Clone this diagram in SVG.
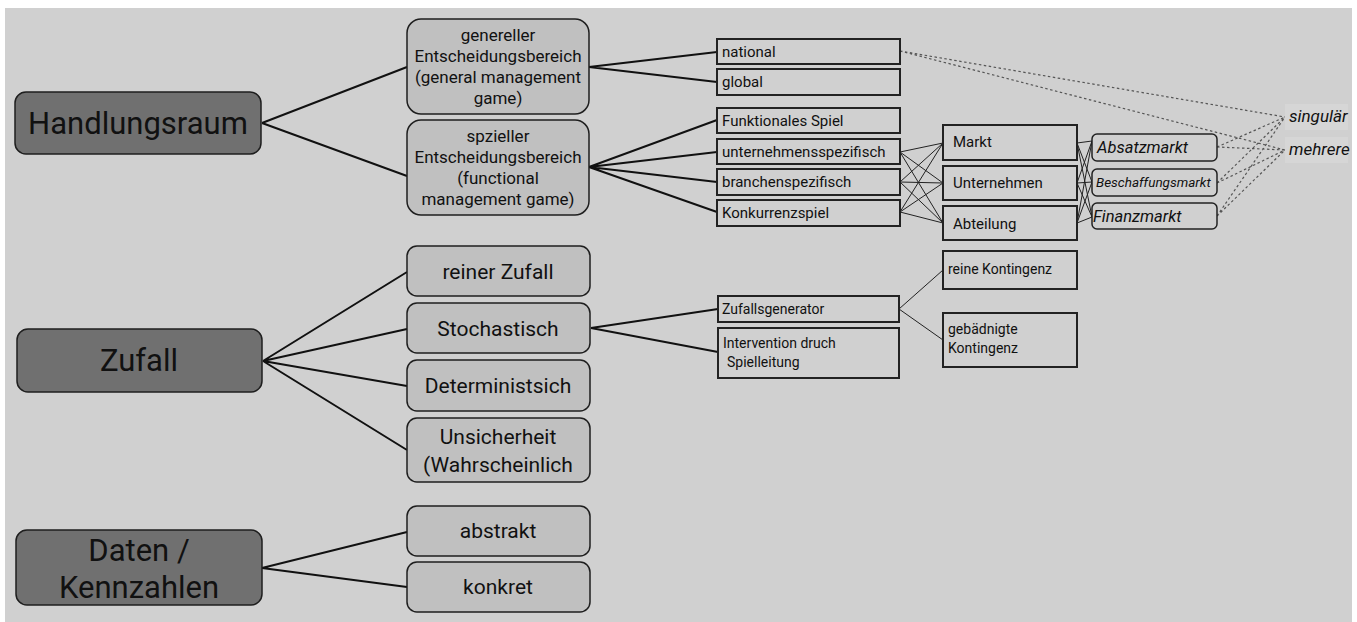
<svg xmlns="http://www.w3.org/2000/svg" width="1357" height="622" viewBox="0 0 1357 622">
  <style>
    text { font-family: Roboto, "Liberation Sans", sans-serif; fill: #111; }
    .root rect { fill: #707070; stroke: #1e1e1e; stroke-width: 1.5; }
    .root text { font-size: 31px; text-anchor: middle; }
    .cat rect { fill: #c0c0c0; stroke: #1e1e1e; stroke-width: 1.5; }
    .cat text { font-size: 21px; text-anchor: middle; }
    .cat text.small { font-size: 17px; }
    .item rect { fill: #d0d0d0; stroke: #222; stroke-width: 2; }
    .item text { font-size: 15px; }
    .item text.sm { font-size: 14px; }
    .mk rect { fill: #d0d0d0; stroke: #222; stroke-width: 1.5; }
    .mk text { font-size: 16.5px; font-style: italic; }
    .tag rect { fill: #d6d6d6; stroke: none; }
    .tag text { font-size: 17px; font-style: italic; }
    .thick { stroke: #111; stroke-width: 2; fill: none; }
    .thin { stroke: #222; stroke-width: 1; fill: none; }
    .dot { stroke: #555; stroke-width: 1.2; stroke-dasharray: 2.5 2.5; fill: none; }
  </style>

  <!-- canvas -->
  <rect x="5" y="8" width="1347" height="614" fill="#d0d0d0"/>

  <!-- connectors -->
  <g id="connectors">
    <!-- Handlungsraum -->
    <path class="thick" d="M262 123 L407 67 M262 123 L407 176"/>
    <path class="thick" d="M589 67 L717 52 M589 67 L717 82"/>
    <path class="thick" d="M589 167 L717 120 M589 167 L717 152 M589 167 L717 182 M589 167 L717 212"/>
    <!-- game types to scope -->
    <path class="thin" d="M900 152 L943 143 M900 152 L943 183 M900 152 L943 223
                          M900 182 L943 143 M900 182 L943 183 M900 182 L943 223
                          M900 212 L943 143 M900 212 L943 183 M900 212 L943 223"/>
    <!-- scope to markets -->
    <path class="thin" d="M1077 143 L1092 141 M1077 143 L1092 182 M1077 143 L1092 217
                          M1077 183 L1092 141 M1077 183 L1092 182 M1077 183 L1092 217
                          M1077 223 L1092 141 M1077 223 L1092 182 M1077 223 L1092 217"/>
    <!-- multiplicity (dotted) -->
    <path class="dot" d="M900 51 L1285 117 M900 51 L1285 150
                         M1217 147 L1285 117 M1217 147 L1285 150
                         M1217 183 L1285 117 M1217 183 L1285 150
                         M1217 216 L1285 117 M1217 216 L1285 150"/>
    <!-- Zufall -->
    <path class="thick" d="M263 361 L407 272 M263 361 L407 329 M263 361 L407 386 M263 361 L407 450"/>
    <path class="thick" d="M591 328 L718 309 M591 328 L718 352"/>
    <path class="thin" d="M899 309 L943 270 M899 309 L943 340"/>
    <!-- Daten / Kennzahlen -->
    <path class="thick" d="M262 568 L407 532 M262 568 L407 587"/>
  </g>

  <!-- top-level nodes -->
  <g id="handlungsraum" class="root">
    <rect x="15" y="92" width="246" height="62" rx="11"/>
    <text x="138" y="134">Handlungsraum</text>
  </g>
  <g id="zufall" class="root">
    <rect x="17" y="329" width="245" height="63" rx="11"/>
    <text x="139" y="371">Zufall</text>
  </g>
  <g id="daten" class="root">
    <rect x="16" y="530" width="246" height="75" rx="11"/>
    <text x="139" y="561">Daten /</text>
    <text x="139" y="598">Kennzahlen</text>
  </g>

  <!-- second level -->
  <g id="genereller" class="cat">
    <rect x="407" y="19" width="182" height="95" rx="14"/>
    <text class="small" x="498" y="41">genereller</text>
    <text class="small" x="498" y="62">Entscheidungsbereich</text>
    <text class="small" x="498" y="83">(general management</text>
    <text class="small" x="498" y="104">game)</text>
  </g>
  <g id="spezieller" class="cat">
    <rect x="407" y="120" width="182" height="95" rx="14"/>
    <text class="small" x="498" y="142">spzieller</text>
    <text class="small" x="498" y="163">Entscheidungsbereich</text>
    <text class="small" x="498" y="184">(functional</text>
    <text class="small" x="498" y="205">management game)</text>
  </g>
  <g id="reiner-zufall" class="cat">
    <rect x="407" y="246" width="183" height="50" rx="10"/>
    <text x="498" y="279">reiner Zufall</text>
  </g>
  <g id="stochastisch" class="cat">
    <rect x="407" y="303" width="183" height="50" rx="10"/>
    <text x="498" y="336">Stochastisch</text>
  </g>
  <g id="deterministisch" class="cat">
    <rect x="407" y="360" width="183" height="51" rx="10"/>
    <text x="498" y="393">Deterministsich</text>
  </g>
  <g id="unsicherheit" class="cat">
    <rect x="407" y="418" width="183" height="64" rx="10"/>
    <text x="498" y="444">Unsicherheit</text>
    <text x="498" y="472">(Wahrscheinlich</text>
  </g>
  <g id="abstrakt" class="cat">
    <rect x="407" y="506" width="183" height="50" rx="10"/>
    <text x="498" y="538">abstrakt</text>
  </g>
  <g id="konkret" class="cat">
    <rect x="407" y="562" width="183" height="50" rx="10"/>
    <text x="498" y="594">konkret</text>
  </g>

  <!-- third level: game scope -->
  <g id="national" class="item">
    <rect x="717" y="39" width="183" height="25"/>
    <text x="722" y="57">national</text>
  </g>
  <g id="global" class="item">
    <rect x="717" y="69" width="183" height="26"/>
    <text x="722" y="87">global</text>
  </g>
  <g id="funktionales-spiel" class="item">
    <rect x="717" y="108" width="183" height="25"/>
    <text x="722" y="126">Funktionales Spiel</text>
  </g>
  <g id="unternehmensspezifisch" class="item">
    <rect x="717" y="139" width="183" height="25"/>
    <text x="722" y="157">unternehmensspezifisch</text>
  </g>
  <g id="branchenspezifisch" class="item">
    <rect x="717" y="169" width="183" height="26"/>
    <text x="722" y="187">branchenspezifisch</text>
  </g>
  <g id="konkurrenzspiel" class="item">
    <rect x="717" y="200" width="183" height="26"/>
    <text x="722" y="218">Konkurrenzspiel</text>
  </g>

  <g id="markt" class="item">
    <rect x="943" y="125" width="134" height="35"/>
    <text x="953" y="147">Markt</text>
  </g>
  <g id="unternehmen" class="item">
    <rect x="943" y="166" width="134" height="34"/>
    <text x="953" y="188">Unternehmen</text>
  </g>
  <g id="abteilung" class="item">
    <rect x="943" y="206" width="134" height="34"/>
    <text x="953" y="229">Abteilung</text>
  </g>

  <g id="absatzmarkt" class="mk">
    <rect x="1092" y="134" width="125" height="27" rx="5"/>
    <text x="1097" y="153">Absatzmarkt</text>
  </g>
  <g id="beschaffungsmarkt" class="mk">
    <rect x="1092" y="169" width="125" height="27" rx="5"/>
    <text x="1096" y="187" style="font-size:13.5px">Beschaffungsmarkt</text>
  </g>
  <g id="finanzmarkt" class="mk">
    <rect x="1092" y="203" width="125" height="26" rx="5"/>
    <text x="1093" y="222">Finanzmarkt</text>
  </g>

  <g id="singular" class="tag">
    <rect x="1285" y="104" width="63" height="26"/>
    <text x="1289" y="122">singulär</text>
  </g>
  <g id="mehrere" class="tag">
    <rect x="1285" y="137" width="63" height="26"/>
    <text x="1289" y="155">mehrere</text>
  </g>

  <!-- third level: chance -->
  <g id="zufallsgenerator" class="item">
    <rect x="718" y="296" width="181" height="26"/>
    <text class="sm" x="722" y="314">Zufallsgenerator</text>
  </g>
  <g id="intervention" class="item">
    <rect x="718" y="328" width="181" height="50"/>
    <text class="sm" x="723" y="348">Intervention druch</text>
    <text class="sm" x="727" y="367">Spielleitung</text>
  </g>
  <g id="reine-kontingenz" class="item">
    <rect x="943" y="251" width="134" height="38"/>
    <text class="sm" x="948" y="274">reine Kontingenz</text>
  </g>
  <g id="gebaendigte-kontingenz" class="item">
    <rect x="943" y="313" width="134" height="54"/>
    <text class="sm" x="948" y="334">gebädnigte</text>
    <text class="sm" x="948" y="353">Kontingenz</text>
  </g>
</svg>
